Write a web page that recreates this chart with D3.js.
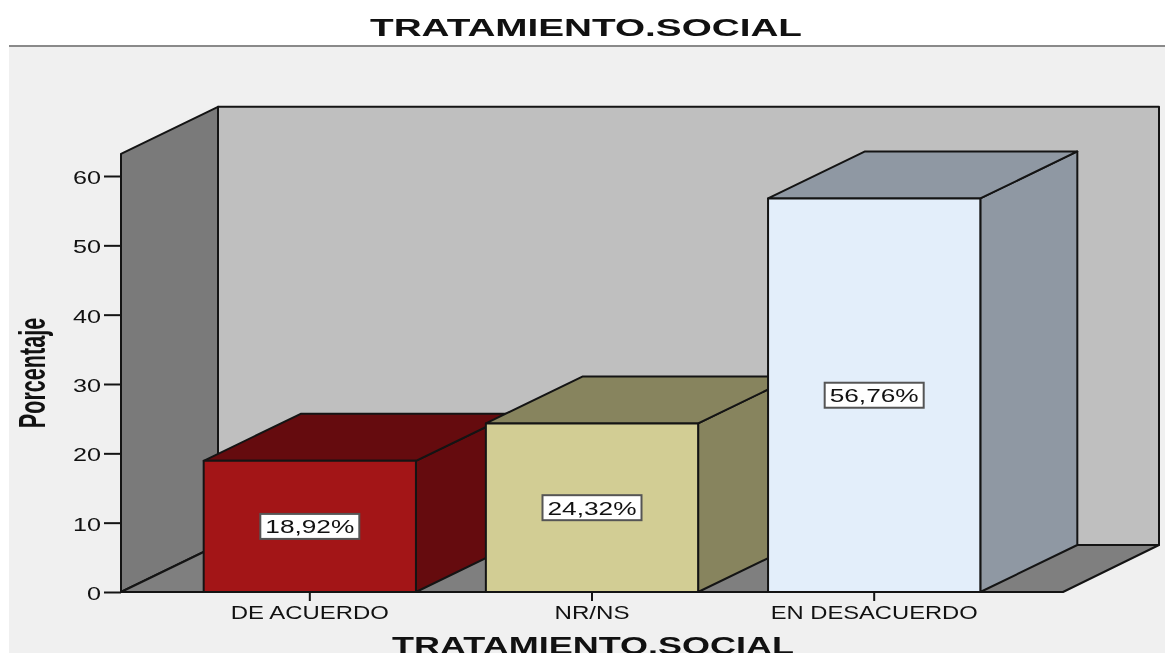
<!DOCTYPE html>
<html><head><meta charset="utf-8">
<script src="https://cdnjs.cloudflare.com/ajax/libs/d3/7.8.5/d3.min.js"></script>
<style>html,body{margin:0;padding:0;background:#fff;overflow:hidden}svg{display:block;filter:blur(0.4px)}text{font-family:"Liberation Sans",Arial,sans-serif;fill:#111}</style>
</head><body><svg id="c" width="1165" height="653"></svg>
<script>
const categories = ["DE ACUERDO","NR/NS","EN DESACUERDO"];
const values = [18.92,24.32,56.76];
const valueLabels = ["18,92%","24,32%","56,76%"];
const yTicks = [0,10,20,30,40,50,60];
const frontColors = ["#a31517","#d2cd94","#e3eefa"];
const sideColors = ["#650b0e","#87845e","#8f98a3"];
const chartTitle = "TRATAMIENTO.SOCIAL";
const yTitle = "Porcentaje";
const yMax = 63.2;

const svg = d3.select("#c");
const X0=121, X1=1063, Y0=592, DX=97, DY=-47;
const y = d3.scaleLinear().domain([0,60]).range([Y0,176]);
const x = d3.scaleBand().domain(categories).range([X0,X1]).paddingInner(0.2478).paddingOuter(0.293);
const lineStyle = {stroke:"#141414","stroke-width":2,"stroke-linejoin":"round"};
function poly(pts,fill){
  const p = svg.append("polygon").attr("points",pts.map(d=>d.join(",")).join(" ")).attr("fill",fill);
  Object.entries(lineStyle).forEach(([k,v])=>p.attr(k,v));
  return p;
}
function stretched(str,cx,cy,w,size,weight){
  return svg.append("text").text(str).attr("text-anchor","middle")
    .attr("font-size",size).attr("font-weight",weight||"normal")
    .attr("textLength",w).attr("lengthAdjust","spacingAndGlyphs")
    .attr("x",0).attr("y",0)
    .attr("transform",`translate(${cx},${cy})`);
}
// background
svg.append("rect").attr("x",9).attr("y",46).attr("width",1156).attr("height",607).attr("fill","#f0f0f0");
svg.append("rect").attr("x",9).attr("y",45).attr("width",1156).attr("height",2).attr("fill","#8a8a8a");
stretched(chartTitle,586,36,432,24,"bold");

// walls and floor
const wallTop=y(yMax);
const backR=X1+96;
poly([[X0+DX,wallTop+DY],[backR,wallTop+DY],[backR,Y0+DY],[X0+DX,Y0+DY]],"#bfbfbf");
poly([[X0,wallTop],[X0+DX,wallTop+DY],[X0+DX,Y0+DY],[X0,Y0]],"#7a7a7a");
poly([[X0,Y0],[X0+DX,Y0+DY],[backR,Y0+DY],[X1,Y0]],"#7f7f7f");

// y axis
const ya = svg.append("g").attr("transform",`translate(${X0},0)`)
  .call(d3.axisLeft(y).tickValues(yTicks).tickSize(17).tickPadding(3).tickSizeOuter(0));
ya.select(".domain").remove();
ya.selectAll("line").attr("stroke","#141414").attr("stroke-width",2);
ya.selectAll("text").remove();
yTicks.forEach(t=>stretched(String(t),t===0?94:87,y(t)+8,t===0?14:28,18).attr("fill","#222"));

// bars
categories.forEach((c,i)=>{
  const l=x(c), r=l+x.bandwidth(), t=y(values[i]), b=y(0);
  poly([[r,t],[r+DX,t+DY],[r+DX,b+DY],[r,b]],sideColors[i]);
  poly([[l,t],[l+DX,t+DY],[r+DX,t+DY],[r,t]],sideColors[i]);
  poly([[l,t],[r,t],[r,b],[l,b]],frontColors[i]);
});
// x axis
const xa = svg.append("g").attr("transform",`translate(0,${Y0})`)
  .call(d3.axisBottom(x).tickSize(9).tickSizeOuter(0));
xa.select(".domain").remove();
xa.selectAll("line").attr("stroke","#141414").attr("stroke-width",2);
xa.selectAll("text").remove();
const catW=[158,75,207];
categories.forEach((c,i)=>stretched(c,x(c)+x.bandwidth()/2,619,catW[i],18));
// value labels
categories.forEach((c,i)=>{
  const cx=x(c)+x.bandwidth()/2, cy=y(values[i]/2);
  svg.append("rect").attr("x",cx-49.5).attr("y",cy-12.5).attr("width",99).attr("height",25)
    .attr("fill","#fff").attr("stroke","#555").attr("stroke-width",2);
  stretched(valueLabels[i],cx,cy+7,89,18);
});
svg.append("text").text(yTitle).attr("text-anchor","middle").attr("font-weight","bold")
  .attr("font-size",24).attr("transform","translate(45,373) rotate(-90) scale(0.9,1.55)");
stretched(chartTitle,593,654,402,24,"bold");
</script></body></html>
